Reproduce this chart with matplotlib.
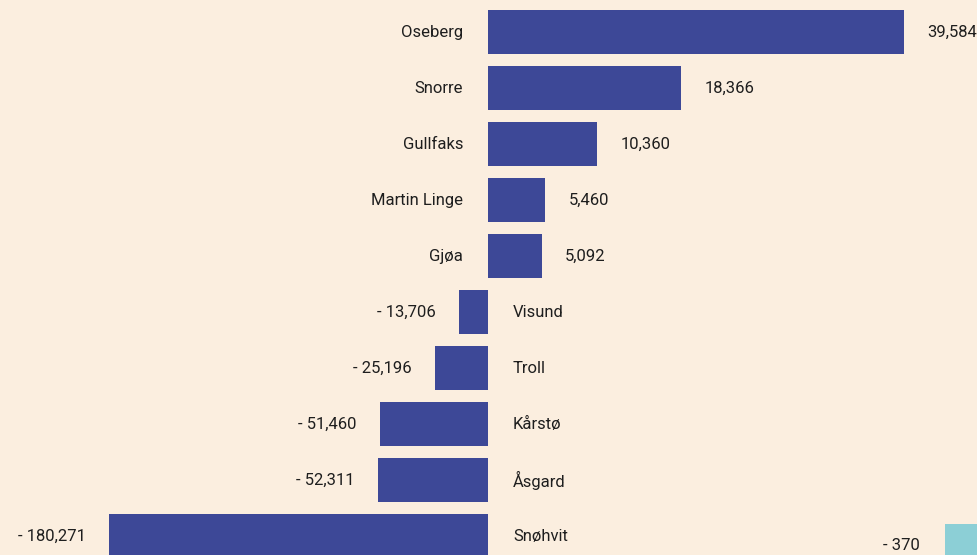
import numpy as np
import matplotlib
matplotlib.use("Agg")
import matplotlib.pyplot as plt

plt.rcParams['font.family'] = ['Roboto', 'DejaVu Sans']

# data
fields = ["Oseberg", "Snorre", "Gullfaks", "Martin Linge", "Gjøa",
          "Visund", "Troll", "Kårstø", "Åsgard", "Snøhvit"]
values = [39584, 18366, 10360, 5460, 5092,
          -13706, -25196, -51460, -52311, -180271]
extra_value = [-370]

bg = "#fbeedf"
navy = "#3d4897"
teal = "#8ccfd6"
txt = "#1e1e1e"
fs = 12

def fmt(v):
    if v < 0:
        return "- {:,}".format(-v)
    return "{:,}".format(v)

# negative side drawn 5x compressed
def fwd(x):
    x = np.asarray(x, dtype=float)
    return np.where(x >= 0, x, x / 5.0)

def inv(x):
    x = np.asarray(x, dtype=float)
    return np.where(x >= 0, x, x * 5.0)

fig = plt.figure(figsize=(9.78, 5.55), dpi=100)
fig.patch.set_facecolor(bg)

ax = fig.add_axes([0, 1 - 564 / 555, 1, 560 / 555])
ax.set_facecolor(bg)
ax.set_xscale('function', functions=(fwd, inv))
ax.set_xlim(-232160, 46622)
ax.set_ylim(len(fields) - 0.5, -0.5)
ax.axis('off')

y = np.arange(len(fields))
ax.barh(y, values, height=0.8, color=navy)

for i, (name, v) in enumerate(zip(fields, values)):
    if v >= 0:
        ax.annotate(name, (0, i), xytext=(-18, 0), textcoords='offset points',
                    ha='right', va='center', fontsize=fs, color=txt)
        ax.annotate(fmt(v), (v, i), xytext=(17, 0), textcoords='offset points',
                    ha='left', va='center', fontsize=fs, color=txt)
    else:
        ax.annotate(name, (0, i), xytext=(18, 0), textcoords='offset points',
                    ha='left', va='center', fontsize=fs, color=txt)
        ax.annotate(fmt(v), (v, i), xytext=(-17, 0), textcoords='offset points',
                    ha='right', va='center', fontsize=fs, color=txt)

# partly visible second panel at the right edge
ax2 = fig.add_axes([860 / 978, 1 - 574 / 555, 240 / 978, 56 / 555])
ax2.set_facecolor(bg)
ax2.patch.set_alpha(0)
ax2.set_xlim(-942, 673)
ax2.set_ylim(0.5, -0.5)
ax2.axis('off')
ax2.barh([0], extra_value, height=0.8, color=teal)
ax2.annotate(fmt(extra_value[0]), (extra_value[0], 0), xytext=(-18, 0),
             textcoords='offset points', ha='right', va='center',
             fontsize=fs, color=txt)

fig.savefig("out.png", dpi=100, facecolor=bg)
